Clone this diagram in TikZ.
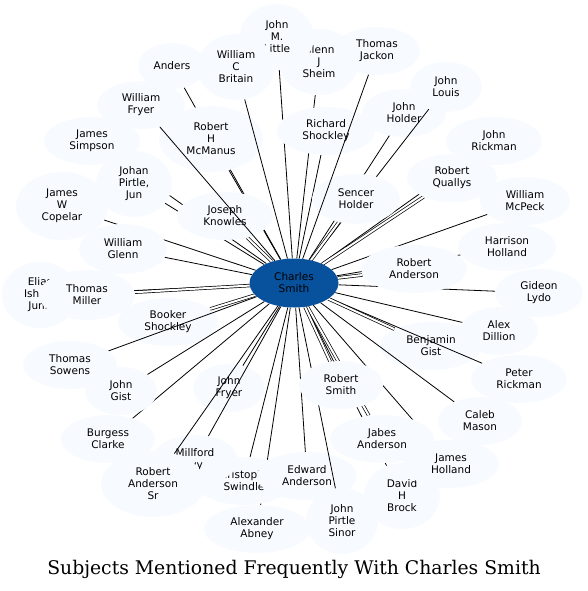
\documentclass[tikz,border=0pt]{standalone}
\usepackage{fontspec}
\setmainfont{DejaVu Serif}
\newfontfamily\subjfont{DejaVu Sans}
\usepackage{tikz}
\usetikzlibrary{shapes.geometric}

\definecolor{subjfill}{HTML}{F7FBFF}
\definecolor{hubfill}{HTML}{08519C}

% layers: hidden links, nodes under the links, links, nodes, late links
\pgfdeclarelayer{back}
\pgfdeclarelayer{under}
\pgfdeclarelayer{links}
\pgfdeclarelayer{late}
\pgfsetlayers{back,under,links,main,late}

\begin{document}
\begin{tikzpicture}[
  x=1pt, y=-1pt,
  subject/.style={ellipse, fill=subjfill, inner sep=0pt, align=center,
    minimum width=#1, minimum height=48, font=\subjfont\fontsize{10.5}{12}\selectfont},
  subject/.default=90,
  tall/.style={minimum height=66},
  hub/.style={subject=89, minimum height=49, fill=hubfill},
  link/.style={line width=0.8pt},
  multi/.style={line width=0.7pt, double, double distance=2pt}
]
  \useasboundingbox (0,0) rectangle (588,591);

  % subjects that the links run over
  \begin{pgfonlayer}{under}
    \node[subject=84] (jholder) at (404,113) {John\\Holder};
    \node[subject=100] (booker) at (168,322) {Booker\\Shockley};
    \node[subject=102] (bgist) at (431,346) {Benjamin\\Gist};
    \node[subject=72] (jfryer) at (229,388) {John\\Fryer};
    \node[subject=100] (swindle) at (244,481) {Christopher\\Swindle};
    \node[subject=86, minimum height=50] (millford) at (195,460) {Millford\\Ivy};
    \node[subject=100] (eanderson) at (307,476) {Edward\\Anderson};
  \end{pgfonlayer}

  % subjects over the links
  \node[subject=86] (jackon) at (377,51) {Thomas\\Jackon};
  \node[subject=80, tall] (sheim) at (319,62) {Glenn\\J\\Sheim};
  \node[subject=74, tall] (little) at (277,37) {John\\M.\\Little};
  \node[subject=78, tall] (britain) at (236,67) {William\\C\\Britain};
  \node[subject=68, minimum height=46] (anders) at (172,66) {Anders};
  \node[subject=72, minimum height=50] (louis) at (446,87) {John\\Louis};
  \node[subject=88] (wfryer) at (141,105) {William\\Fryer};
  \node[subject=104, tall] (mcmanus) at (211,139) {Robert\\H\\McManus};
  \node[subject=98] (rshockley) at (326,131) {Richard\\Shockley};
  \node[subject=96] (jrickman) at (494,141) {John\\Rickman};
  \node[subject=96] (simpson) at (92,141) {James\\Simpson};
  \node[subject=76, tall] (johan) at (134,184) {Johan\\Pirtle,\\Jun};
  \node[subject=92, minimum height=68] (copelar) at (62,206) {James\\W\\Copelar};
  \node[subject=96] (knowles) at (225,216) {Joseph\\Knowles};
  \node[subject=88, minimum height=50] (sencer) at (356,199) {Sencer\\Holder};
  \node[subject=90] (quallys) at (452,178) {Robert\\Quallys};
  \node[subject=90] (mcpeck) at (525,201) {William\\McPeck};
  \node[subject=88, minimum height=50] (wglenn) at (123,249) {William\\Glenn};
  \node[subject=98] (harrison) at (507,247) {Harrison\\Holland};
  \node[subject=106] (randerson) at (414,269) {Robert\\Anderson};
  \node[subject=76, tall] (elias) at (40,295) {Elias\\Isham\\Junr.};
  \node[subject=96, minimum height=50] (tmiller) at (87,295) {Thomas\\Miller};
  \node[subject=88] (gideon) at (539,293) {Gideon\\Lydo};
  \node[subject=78] (dillion) at (499,331) {Alex\\Dillion};
  \node[subject=94] (sowens) at (70,365) {Thomas\\Sowens};
  \node[subject=96] (prickman) at (519,379) {Peter\\Rickman};
  \node[subject=72] (jgist) at (121,391) {John\\Gist};
  \node[subject=84] (rsmith) at (341,385) {Robert\\Smith};
  \node[subject=84] (caleb) at (480,421) {Caleb\\Mason};
  \node[subject=94] (burgess) at (108,439) {Burgess\\Clarke};
  \node[subject=104] (jabes) at (382,439) {Jabes\\Anderson};
  \node[subject=104, tall] (rasr) at (153,484) {Robert\\Anderson\\Sr};
  \node[subject=76, tall] (brock) at (402,496) {David\\H\\Brock};
  \node[subject=96] (jholland) at (451,464) {James\\Holland};
  \node[subject=106] (abney) at (257,529) {Alexander\\Abney};
  \node[subject=72, tall] (sinor) at (342,521) {John\\Pirtle\\Sinor};

  \node[hub] (charles) at (294,283) {Charles\\Smith};

  \begin{pgfonlayer}{back}
    \draw[link] (charles) -- (abney);
  \end{pgfonlayer}

  \begin{pgfonlayer}{links}
    \foreach \n in {little, anders, sheim, louis, mcmanus, rshockley, jholder,
        jrickman, simpson, johan, copelar, mcpeck, wglenn, harrison, elias,
        gideon, dillion, sowens, prickman, jgist, jfryer, caleb, burgess,
        millford, rasr, swindle, eanderson, jholland, brock, sinor}
      \draw[link] (charles) -- (\n);
    \foreach \n in {knowles, sencer, quallys, randerson, tmiller, booker,
        bgist, jabes, rsmith}
      \draw[multi] (charles) -- (\n);
  \end{pgfonlayer}

  \begin{pgfonlayer}{late}
    \foreach \n in {wfryer, jackon, britain}
      \draw[link] (charles) -- (\n);
  \end{pgfonlayer}

  \node[font=\fontsize{18.8}{22}\selectfont] (title) at (294,569)
    {Subjects Mentioned Frequently With Charles Smith};
\end{tikzpicture}
\end{document}
